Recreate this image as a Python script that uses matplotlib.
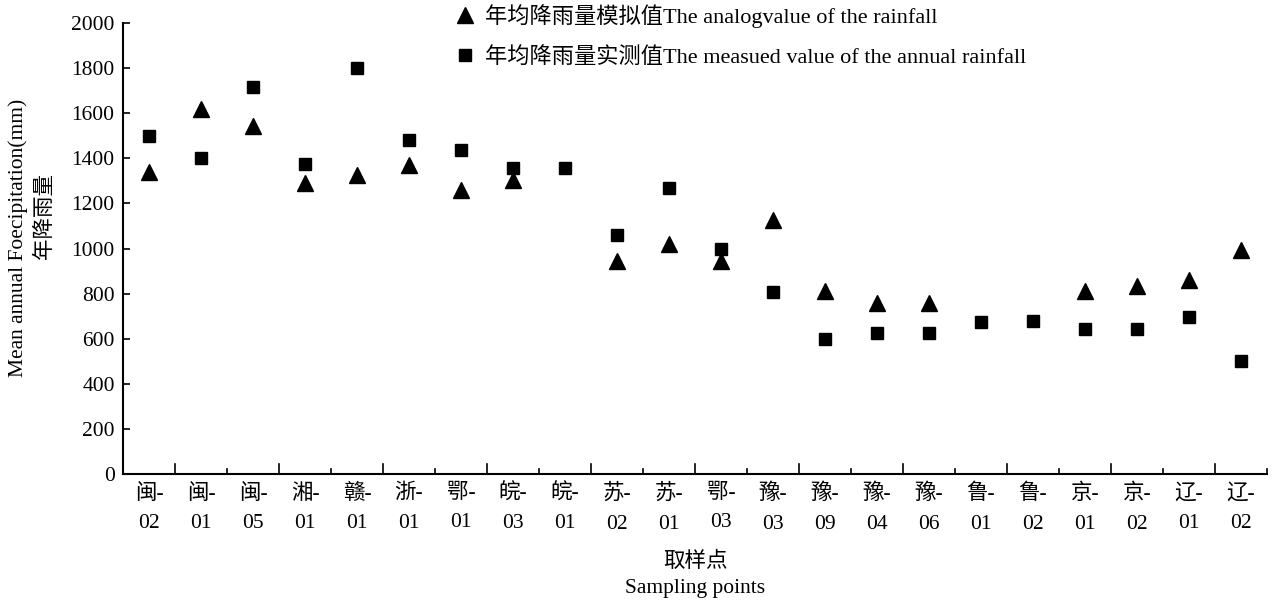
import numpy as np
import matplotlib
matplotlib.use("Agg")
import matplotlib.pyplot as plt

plt.rcParams['font.family'] = ['Liberation Serif', 'Noto Sans CJK SC']

categories = ["闽-\n02", "闽-\n01", "闽-\n05", "湘-\n01", "赣-\n01", "浙-\n01", "鄂-\n01",
              "皖-\n03", "皖-\n01", "苏-\n02", "苏-\n01", "鄂-\n03", "豫-\n03", "豫-\n09",
              "豫-\n04", "豫-\n06", "鲁-\n01", "鲁-\n02", "京-\n01", "京-\n02", "辽-\n01", "辽-\n02"]
simulated = [1340, 1620, 1545, 1290, 1325, 1370, 1260, 1305, np.nan, 945, 1020, 945,
             1125, 810, 760, 760, np.nan, np.nan, 810, 835, 860, 995]
measured = [1500, 1400, 1715, 1375, 1800, 1480, 1435, 1355, 1355, 1060, 1270, 1000,
            805, 600, 625, 625, 675, 680, 645, 645, 695, 500]
yticks = [0, 200, 400, 600, 800, 1000, 1200, 1400, 1600, 1800, 2000]

FS = 15.5

fig = plt.figure(figsize=(12.76, 6.04), dpi=100)
ax = fig.add_axes([123/1276, 130/604, (1267-123)/1276, (474-23)/604])

x = np.arange(len(categories))
l1, = ax.plot(x, simulated, linestyle='none', marker='^', color='black', markersize=11,
              label='年均降雨量模拟值The analogvalue of the rainfall')
l2, = ax.plot(x, measured, linestyle='none', marker='s', color='black', markersize=8.5,
              label='年均降雨量实测值The measued value of the annual rainfall')

ax.set_xlim(-0.5, len(categories) - 0.5)
ax.set_ylim(0, 2000)
ax.set_yticks(yticks)
ax.tick_params(axis='y', direction='in', length=5, width=1.2, labelsize=FS, pad=6)

ax.set_xticks(x)
ax.set_xticklabels(categories, fontsize=FS, linespacing=1.75)
ax.tick_params(axis='x', which='major', length=0, pad=7)
long_pos = np.arange(0.5, len(categories) - 0.5, 2.0)
short_pos = np.arange(1.5, len(categories), 2.0)
for p in long_pos:
    ax.plot([p, p], [0, 45], color='black', lw=1.2, clip_on=False)
for p in short_pos:
    ax.plot([p, p], [0, 22], color='black', lw=1.2, clip_on=False)

for s in ['top', 'right']:
    ax.spines[s].set_visible(False)
for s in ['left', 'bottom']:
    ax.spines[s].set_linewidth(1.5)

fig.text(695/1276, 1 - 562/604, '取样点', ha='center', va='center', fontsize=FS)
fig.text(695/1276, 1 - 588/604, 'Sampling points', ha='center', va='center', fontsize=FS)
fig.text(18/1276, 1 - 238/604, 'Mean annual Foecipitation(mm)', rotation=90,
         ha='center', va='center', fontsize=FS)
fig.text(45/1276, 1 - 216/604, '年降雨量', rotation=90, ha='center', va='center', fontsize=FS)

fig.legend(handles=[l1, l2], loc='upper left', bbox_to_anchor=(445/1276, 1 + 5/604),
           frameon=False, fontsize=16, labelspacing=0.85, handlelength=1.0,
           handletextpad=0.4, borderaxespad=0)

fig.savefig('out.png', dpi=100, facecolor='white')
